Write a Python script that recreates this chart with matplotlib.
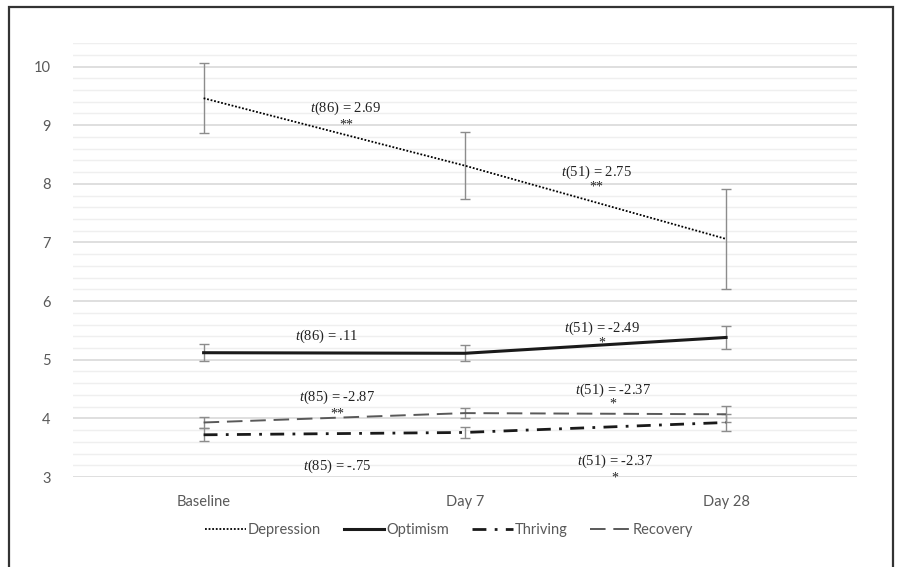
import numpy as np
import matplotlib.pyplot as plt
from matplotlib.patches import Rectangle

# ---- data ----
timepoints = ["Baseline", "Day 7", "Day 28"]

depression = [9.46, 8.31, 7.06]
depression_err = [0.60, 0.57, 0.86]

optimism = [5.12, 5.11, 5.38]
optimism_err = [0.15, 0.14, 0.19]

thriving = [3.72, 3.76, 3.93]
thriving_err = [0.11, 0.09, 0.15]

recovery = [3.93, 4.09, 4.07]
recovery_err = [0.10, 0.09, 0.14]

# (df, value, x, y, stars, star_y)
t_labels = [
    ("86", "2.69", 0.545, 9.29, "**", 9.00),
    ("51", "2.75", 1.505, 8.20, "**", 7.94),
    ("86", ".11", 0.472, 5.40, "", None),
    ("51", "-2.49", 1.524, 5.54, "*", 5.28),
    ("85", "-2.87", 0.51, 4.36, "**", 4.07),
    ("51", "-2.37", 1.566, 4.48, "*", 4.24),
    ("85", "-.75", 0.51, 3.19, "", None),
    ("51", "-2.37", 1.575, 3.27, "*", 2.99),
]

GRAY = "#595959"
ERR = "#8c8c8c"

plt.rcParams["mathtext.fontset"] = "custom"
plt.rcParams["mathtext.it"] = "Liberation Serif:italic"
plt.rcParams["mathtext.rm"] = "Liberation Serif"

fig = plt.figure(figsize=(8.98, 5.67), dpi=100)
ax = fig.add_axes([0.0813, 0.1587, 0.8727, 0.7653])

x = np.arange(len(timepoints))

series = [
    ("Depression", depression, depression_err, dict(color="black", lw=1.3, linestyle=(0, (1, 1)))),
    ("Optimism", optimism, optimism_err, dict(color="#1a1a1a", lw=2.2, linestyle="-")),
    ("Thriving", thriving, thriving_err, dict(color="#1a1a1a", lw=2.0, linestyle=(0, (5, 3, 1, 3)))),
    ("Recovery", recovery, recovery_err, dict(color=GRAY, lw=1.4, linestyle=(0, (8, 4)))),
]

for name, vals, err, style in series:
    ax.plot(x, vals, label=name, zorder=3, **style)
    ax.errorbar(x, vals, yerr=err, fmt="none", ecolor=ERR, elinewidth=1.0,
                capsize=3.5, capthick=1.0, zorder=2)

for df, val, tx, ty, stars, sy in t_labels:
    ax.text(tx, ty, f"$t$({df}) = {val}", ha="center", va="center",
            family="Liberation Serif", fontsize=10.5, color="#222222", zorder=4)
    if stars:
        ax.text(tx, sy, stars, ha="center", va="center",
                family="Liberation Serif", fontsize=10, color="#222222", zorder=4)

ax.set_xlim(-0.5, 2.5)
ax.set_ylim(3, 10.4)
ax.set_xticks(x)
ax.set_xticklabels(timepoints)
ax.set_yticks(range(3, 11))
ax.set_yticks(np.arange(3, 10.41, 0.2), minor=True)
ax.grid(axis="y", which="major", color="#d9d9d9", lw=1.2, zorder=0)
ax.grid(axis="y", which="minor", color="#efefef", lw=1.0, zorder=0)
ax.tick_params(axis="both", which="both", length=0, colors=GRAY, labelsize=10.5)
ax.tick_params(axis="y", pad=16)
ax.tick_params(axis="x", pad=13)
for lab in ax.get_xticklabels() + ax.get_yticklabels():
    lab.set_family("Lato")
for s in ax.spines.values():
    s.set_visible(False)

leg = fig.legend(loc="center", bbox_to_anchor=(0.5, 0.065), ncol=4, frameon=False,
                 handlelength=2.8, handletextpad=0.1, columnspacing=1.6,
                 prop={"family": "Lato", "size": 10.5})
for t in leg.get_texts():
    t.set_color(GRAY)

# outer frame of the chart area
fig.patches.append(Rectangle((0.0095, -0.01), 0.985, 0.998, transform=fig.transFigure,
                             fill=False, edgecolor="#333333", lw=1.6))

fig.savefig("out.png", dpi=100)
